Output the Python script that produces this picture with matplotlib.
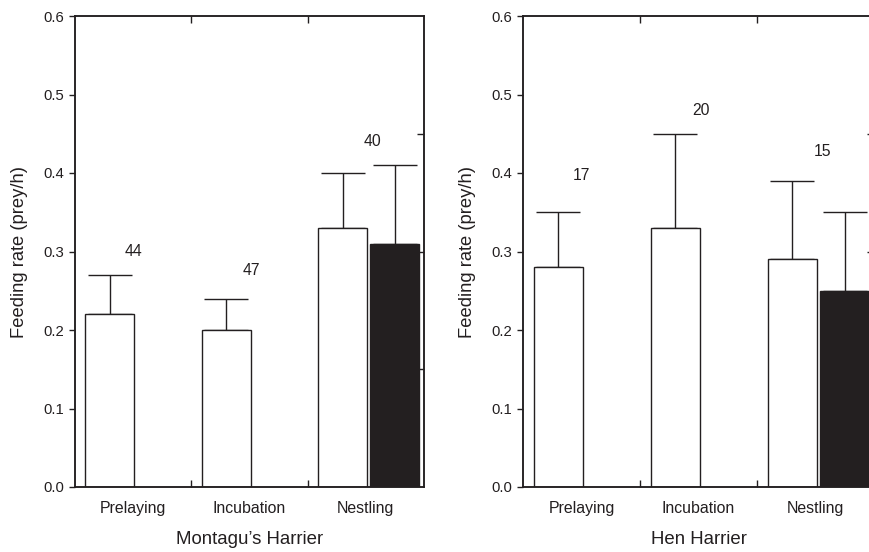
import numpy as np
import matplotlib
matplotlib.use("Agg")
import matplotlib.pyplot as plt

plt.rcParams["font.family"] = ["Liberation Sans", "DejaVu Sans"]

INK = "#231f20"

# Data
stages = ["Prelaying", "Incubation", "Nestling"]

mon_white = [0.22, 0.20, 0.33]
mon_white_top = [0.27, 0.24, 0.40]
mon_black = 0.31
mon_black_top = 0.41
mon_n = ["44", "47", "40"]

hen_white = [0.28, 0.33, 0.29]
hen_white_top = [0.35, 0.45, 0.39]
hen_black = 0.25
hen_black_top = 0.35
hen_n = ["17", "20", "15"]

# n label heights (data units)
mon_n_y = [0.30, 0.276, 0.44]
hen_n_y = [0.397, 0.48, 0.428]


def panel(ax, white, white_top, black, black_top, n, n_y, xlabel):
    x = np.arange(len(stages))
    xw = x + 0.30
    xb = x[-1] + 0.75
    up_w = np.array(white_top) - np.array(white)

    ax.errorbar(xw, white, yerr=[np.zeros(len(white)), up_w], fmt="none",
                ecolor=INK, elinewidth=1, capsize=15.5, capthick=1, zorder=1)
    ax.errorbar([xb], [black], yerr=[[0], [black_top - black]], fmt="none",
                ecolor=INK, elinewidth=1, capsize=15.5, capthick=1, zorder=1)
    ax.bar(xw, white, width=0.42, color="white", edgecolor=INK, lw=1, zorder=2)
    ax.bar([xb], [black], width=0.42, color=INK, edgecolor=INK, lw=1, zorder=2)

    lx = [0.5, 1.52, 2.56]
    for tx, ty, s in zip(lx, n_y, n):
        ax.text(tx, ty, s, ha="center", va="center", fontsize=11.3, color=INK)

    ax.set_xlim(0, 3)
    ax.set_ylim(0, 0.6)
    ax.set_yticks(np.arange(0, 0.61, 0.1))
    ax.set_yticklabels([f"{v:.1f}" for v in np.arange(0, 0.61, 0.1)])
    ax.set_xticks([1, 2])
    ax.set_xticklabels([])
    ax.set_xticks(x + 0.5, minor=True)
    ax.set_xticklabels(stages, minor=True)
    ax.tick_params(axis="x", which="major", direction="in", top=True,
                   length=5, width=1, color=INK)
    ax.tick_params(axis="x", which="minor", length=0, pad=10,
                   labelsize=11.4, labelcolor=INK)
    ax.tick_params(axis="y", direction="out", length=4.5, width=1,
                   color=INK, labelsize=10.7, labelcolor=INK)
    for s in ax.spines.values():
        s.set_color(INK)
        s.set_linewidth(1.1)

    ax.set_ylabel("Feeding rate (prey/h)", fontsize=13.2, color=INK,
                  labelpad=11)
    ax.set_xlabel(xlabel, fontsize=13.4, color=INK, labelpad=11)

    # right-hand axis with unlabeled inward ticks
    rx = ax.twinx()
    rx.set_ylim(0, 0.6)
    rx.set_yticks([0.15, 0.30, 0.45])
    rx.set_yticklabels([])
    rx.tick_params(axis="y", direction="in", length=5, width=1, color=INK)
    for s in rx.spines.values():
        s.set_color(INK)
        s.set_linewidth(1.1)


fig = plt.figure(figsize=(8.69, 5.52), dpi=100)
ax1 = fig.add_axes([75 / 869, 1 - 487 / 552, 349 / 869, 471 / 552])
ax2 = fig.add_axes([523 / 869, 1 - 487 / 552, 351 / 869, 471 / 552])

panel(ax1, mon_white, mon_white_top, mon_black, mon_black_top, mon_n, mon_n_y,
      "Montagu\u2019s Harrier")
panel(ax2, hen_white, hen_white_top, hen_black, hen_black_top, hen_n, hen_n_y,
      "Hen Harrier")

fig.savefig("out.png", dpi=100)
